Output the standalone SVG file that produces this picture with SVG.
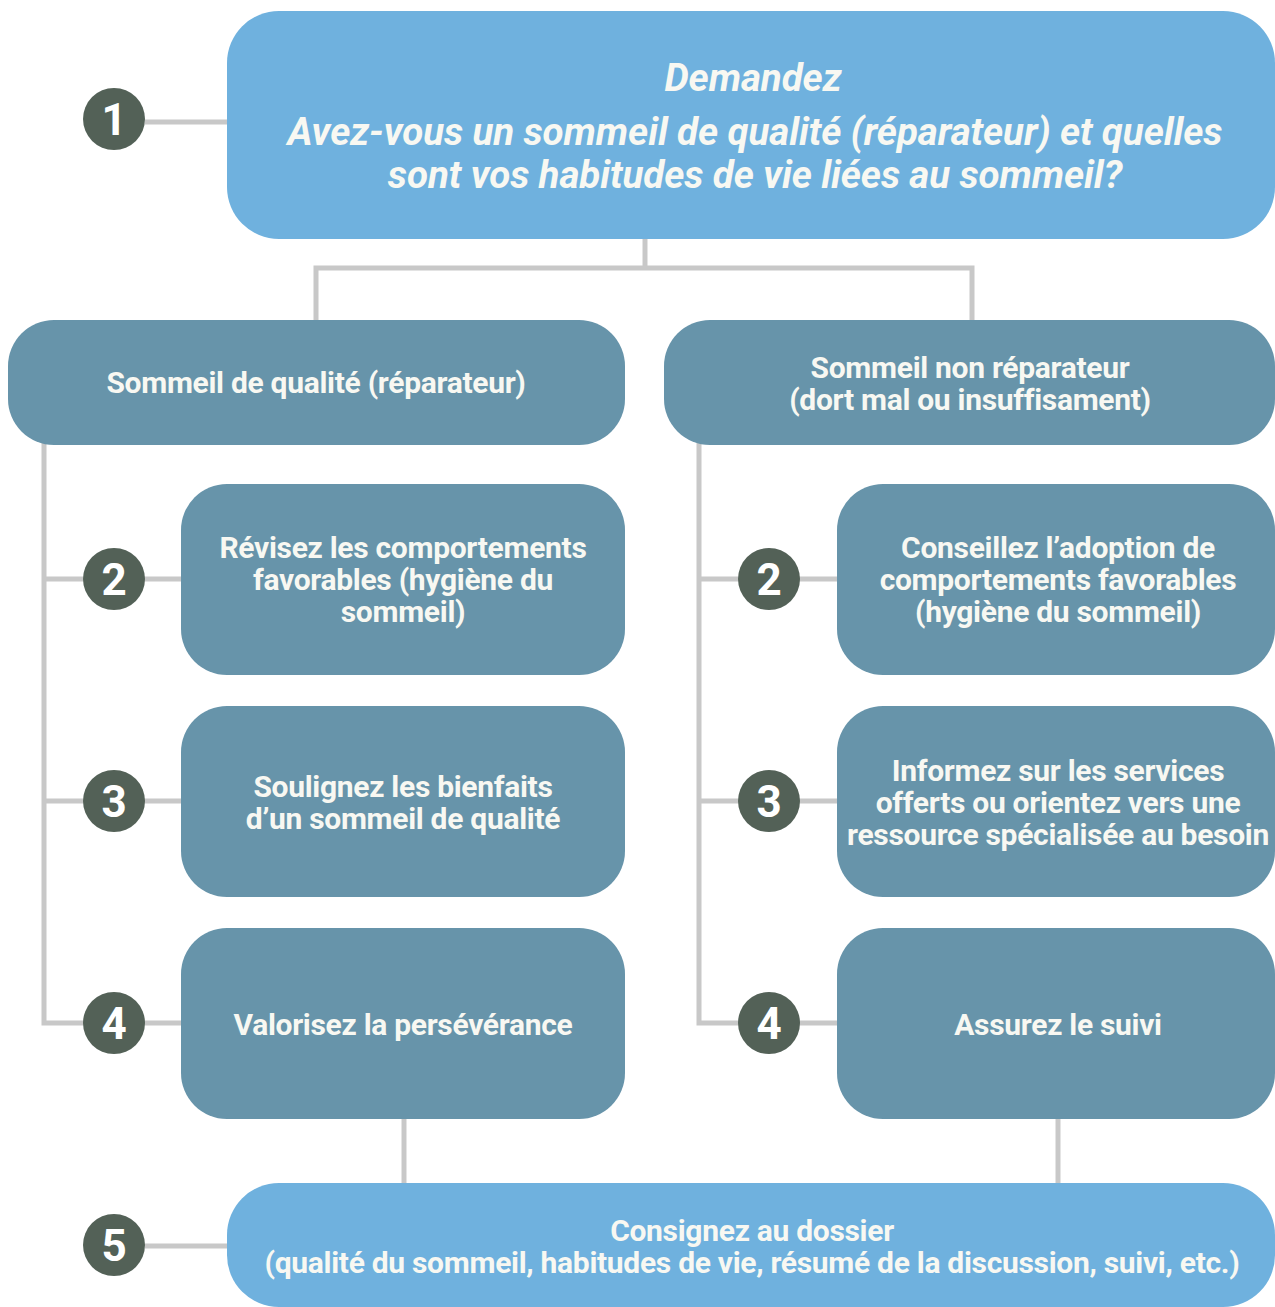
<svg xmlns="http://www.w3.org/2000/svg" width="1275" height="1307" viewBox="0 0 1275 1307">
<style>
.lb{fill:#6fb1de}
.mb{fill:#6794aa}
.cn{stroke:#c8c8c8;stroke-width:5;fill:none}
.num circle{fill:#536157}
.num text{fill:#ffffff;font-family:Roboto,"Liberation Sans",sans-serif;font-weight:700;font-size:44px;text-anchor:middle}
.t{fill:#f8f8f2;font-family:Roboto,"Liberation Sans",sans-serif;font-weight:700;font-size:30px;text-anchor:middle;letter-spacing:-0.3px}
.ti{fill:#f8f8f2;font-family:Roboto,"Liberation Sans",sans-serif;font-weight:700;font-style:italic;font-size:38.5px;text-anchor:middle;letter-spacing:-0.1px}
</style>
<rect width="1275" height="1307" fill="#ffffff"/>
<g id="connectors">
<line class="cn" x1="145" y1="122" x2="230" y2="122"/>
<polyline class="cn" points="645,239 645,268"/>
<polyline class="cn" points="316,322 316,268 972,268 972,322"/>
<polyline class="cn" points="44,443 44,1023 184,1023"/>
<line class="cn" x1="44" y1="579" x2="184" y2="579"/>
<line class="cn" x1="44" y1="801" x2="184" y2="801"/>
<polyline class="cn" points="699,443 699,1023 840,1023"/>
<line class="cn" x1="699" y1="579" x2="840" y2="579"/>
<line class="cn" x1="699" y1="801" x2="840" y2="801"/>
<line class="cn" x1="404" y1="1117" x2="404" y2="1186"/>
<line class="cn" x1="1058" y1="1117" x2="1058" y2="1186"/>
<line class="cn" x1="145" y1="1246" x2="230" y2="1246"/>
</g>
<g id="node-top">
<rect class="lb" x="227" y="11" width="1048" height="228" rx="52"/>
<text class="ti" x="753" y="91">Demandez</text>
<text class="ti" x="755" y="145">Avez-vous un sommeil de qualité (réparateur) et quelles</text>
<text class="ti" x="755" y="188">sont vos habitudes de vie liées au sommeil?</text>
</g>
<g id="node-qualite">
<rect class="mb" x="8" y="320" width="617" height="125" rx="46"/>
<text class="t" x="316" y="393">Sommeil de qualité (réparateur)</text>
</g>
<g id="node-nonrep">
<rect class="mb" x="664" y="320" width="611" height="125" rx="46"/>
<text class="t" x="970" y="378">Sommeil non réparateur</text>
<text class="t" x="970" y="410">(dort mal ou insuffisament)</text>
</g>
<g id="node-l2">
<rect class="mb" x="181" y="484" width="444" height="191" rx="46"/>
<text class="t" x="403" y="558">Révisez les comportements</text>
<text class="t" x="403" y="590">favorables (hygiène du</text>
<text class="t" x="403" y="622">sommeil)</text>
</g>
<g id="node-l3">
<rect class="mb" x="181" y="706" width="444" height="191" rx="46"/>
<text class="t" x="403" y="797">Soulignez les bienfaits</text>
<text class="t" x="403" y="829">d’un sommeil de qualité</text>
</g>
<g id="node-l4">
<rect class="mb" x="181" y="928" width="444" height="191" rx="46"/>
<text class="t" x="403" y="1035">Valorisez la persévérance</text>
</g>
<g id="node-r2">
<rect class="mb" x="837" y="484" width="438" height="191" rx="46"/>
<text class="t" x="1058" y="558">Conseillez l’adoption de</text>
<text class="t" x="1058" y="590">comportements favorables</text>
<text class="t" x="1058" y="622">(hygiène du sommeil)</text>
</g>
<g id="node-r3">
<rect class="mb" x="837" y="706" width="438" height="191" rx="46"/>
<text class="t" x="1058" y="781">Informez sur les services</text>
<text class="t" x="1058" y="813">offerts ou orientez vers une</text>
<text class="t" x="1058" y="845">ressource spécialisée au besoin</text>
</g>
<g id="node-r4">
<rect class="mb" x="837" y="928" width="438" height="191" rx="46"/>
<text class="t" x="1058" y="1035">Assurez le suivi</text>
</g>
<g id="node-bottom">
<rect class="lb" x="227" y="1183" width="1048" height="124" rx="52"/>
<text class="t" x="752" y="1241">Consignez au dossier</text>
<text class="t" x="752" y="1273">(qualité du sommeil, habitudes de vie, résumé de la discussion, suivi, etc.)</text>
</g>
<g id="num-1" class="num"><circle cx="114" cy="119" r="31"/><text x="114" y="135">1</text></g>
<g id="num-2l" class="num"><circle cx="114" cy="579" r="31"/><text x="114" y="595">2</text></g>
<g id="num-3l" class="num"><circle cx="114" cy="801" r="31"/><text x="114" y="817">3</text></g>
<g id="num-4l" class="num"><circle cx="114" cy="1023" r="31"/><text x="114" y="1039">4</text></g>
<g id="num-2r" class="num"><circle cx="769" cy="579" r="31"/><text x="769" y="595">2</text></g>
<g id="num-3r" class="num"><circle cx="769" cy="801" r="31"/><text x="769" y="817">3</text></g>
<g id="num-4r" class="num"><circle cx="769" cy="1023" r="31"/><text x="769" y="1039">4</text></g>
<g id="num-5" class="num"><circle cx="114" cy="1245" r="31"/><text x="114" y="1261">5</text></g>
</svg>
